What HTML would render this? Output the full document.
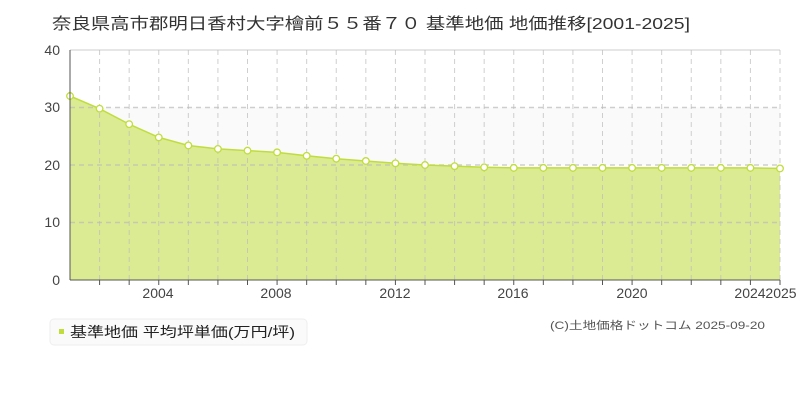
<!DOCTYPE html>
<html><head><meta charset="utf-8"><style>
body{margin:0;background:#fff;width:800px;height:400px;overflow:hidden;font-family:"Liberation Sans","Noto Sans CJK JP",sans-serif}
</style></head><body>
<svg id="s" width="800" height="400" xmlns="http://www.w3.org/2000/svg" font-family="'Liberation Sans','Noto Sans CJK JP',sans-serif">
<text x="52" y="29" font-size="16" fill="#333" textLength="638" lengthAdjust="spacingAndGlyphs">奈良県高市郡明日香村大字檜前５５番７０ 基準地価 地価推移[2001-2025]</text>
<rect x="70" y="107.5" width="710" height="57.5" fill="#fafafa"/>
<line x1="70" y1="50" x2="780" y2="50" stroke="#ddd" stroke-width="1.5"/>
<g id="g"></g>
<line x1="70" y1="50" x2="70" y2="280" stroke="#555" stroke-width="1"/>
<line x1="70" y1="280" x2="780" y2="280" stroke="#555" stroke-width="1"/>
<g font-size="14" fill="#444" text-anchor="end">
<text x="60" y="285">0</text><text x="60" y="227">10</text><text x="60" y="170">20</text><text x="60" y="112">30</text><text x="60" y="55">40</text>
</g>
<g font-size="14" fill="#444" text-anchor="middle">
<text x="158" y="298">2004</text><text x="276" y="298">2008</text><text x="395" y="298">2012</text><text x="513" y="298">2016</text><text x="632" y="298">2020</text><text x="750" y="298">2024</text><text x="781" y="298">2025</text>
</g>
<rect x="50" y="319" width="257" height="26" rx="4" fill="#fafafa" stroke="#eee"/>
<rect x="59" y="329" width="5" height="5" fill="#c1dd3c"/>
<text x="70" y="337" font-size="14" fill="#222" textLength="225" lengthAdjust="spacingAndGlyphs">基準地価 平均坪単価(万円/坪)</text>
<text x="550" y="329" font-size="11" fill="#555" textLength="215" lengthAdjust="spacingAndGlyphs">(C)土地価格ドットコム 2025-09-20</text>
</svg>
<script>
var v=[32.0,29.8,27.1,24.8,23.4,22.8,22.5,22.2,21.6,21.1,20.7,20.3,20.0,19.8,19.6,19.5,19.5,19.5,19.5,19.5,19.5,19.5,19.5,19.5,19.4];
var X=i=>70+i*710/24,Y=a=>280-a*5.75,h='';
var pts=v.map((a,i)=>X(i).toFixed(1)+','+Y(a).toFixed(1)).join(' ');
h+='<polygon points="70,280 '+pts+' 780,280" fill="#dbeb94"/>';
for(var i=1;i<=24;i++){h+='<line x1="'+X(i)+'" y1="50" x2="'+X(i)+'" y2="280" stroke="#bbb" stroke-opacity="0.7" stroke-dasharray="5,4"/>';h+='<line x1="'+X(i)+'" y1="280" x2="'+X(i)+'" y2="285" stroke="#555"/>';}
[10,20,30].forEach(a=>{h+='<line x1="70" y1="'+Y(a)+'" x2="780" y2="'+Y(a)+'" stroke="#bbb" stroke-opacity="0.7" stroke-dasharray="5,4" stroke-width="1.5"/>';});
h+='<polyline points="'+pts+'" fill="none" stroke="#c1dd3c" stroke-width="1.5"/>';
v.forEach((a,i)=>{h+='<circle cx="'+X(i)+'" cy="'+Y(a)+'" r="3.3" fill="#fff" stroke="#c1dd3c" stroke-width="1.3"/>';});
document.getElementById('g').innerHTML=h;
</script>
</body></html>
